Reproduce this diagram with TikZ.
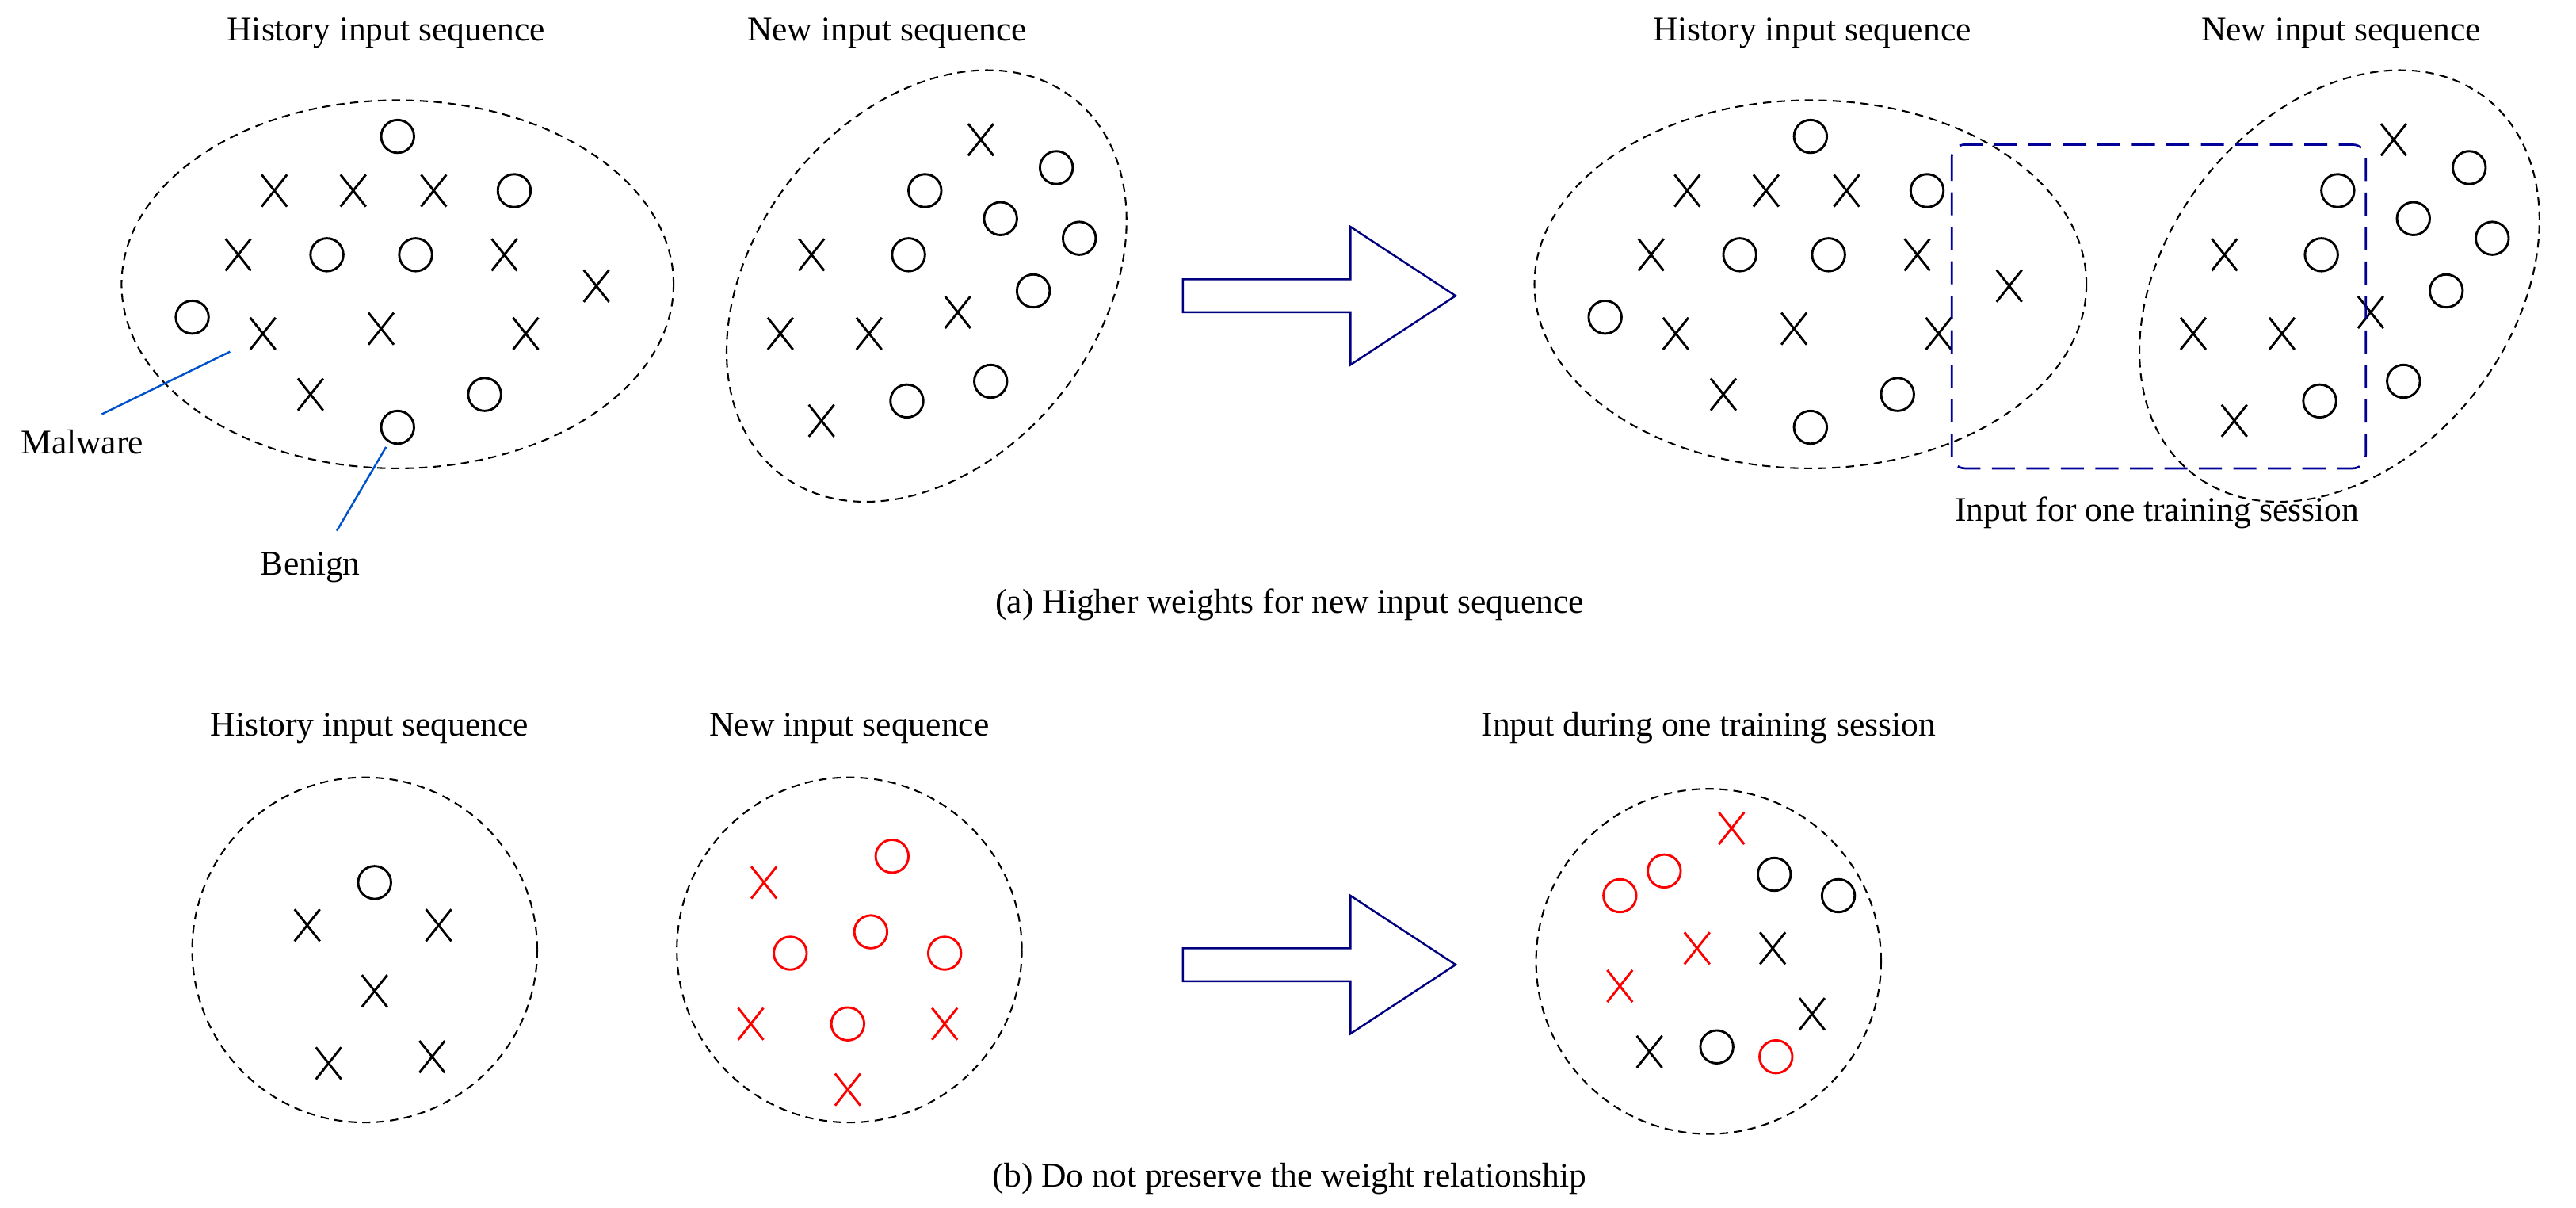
\documentclass[tikz,border=0pt]{standalone}
\usepackage{fontspec}
\setmainfont{Liberation Serif}
\usetikzlibrary{shapes.misc}
\begin{document}
\begin{tikzpicture}[x=1pt,y=-1pt,
  txt/.style={font=\fontsize{21}{25}\selectfont,inner sep=0},
  X/.style={draw,cross out,minimum width=14pt,minimum height=18pt,inner sep=0,line width=1.4pt},
  O/.style={draw,circle,minimum size=20pt,inner sep=0,line width=1.4pt},
  rX/.style={X,red},rO/.style={O,red},
  bnd/.style={dash pattern=on 5pt off 3.5pt,line width=1pt},
  big/.style={draw=blue!50!black,line width=1.2pt,fill=white},
  lbl/.style={draw=blue!60!cyan!80!black,line width=1.2pt}]
\useasboundingbox (0,0) rectangle (1568,735);
\foreach \dx/\g in {0/a,860/b}{
 \begin{scope}[xshift=\dx]
 \draw[bnd] (242,173) ellipse [x radius=168,y radius=112];
 \draw[bnd,rotate around={-38:(564,174)}] (564,174) ellipse [x radius=105,y radius=145];
 \foreach \p [count=\i] in {(242,83),(313,116),(199,155),(253,155),(117,193),(295,240),(242,260),(643,102),(563,116),(609,133),(657,145),(553,155),(629,177),(552,244),(603,232)}
   \node[O] (\g o\i) at \p {};
 \foreach \p [count=\i] in {(167,116),(215,116),(264,116),(145,155),(307,155),(363,174),(160,203),(232,200),(320,203),(189,240),(597,85),(494,155),(475,203),(529,203),(583,190),(500,256)}
   \node[X] (\g x\i) at \p {};
 \end{scope}}
\node[txt] (t1) at (235,20) {History input sequence};
\node[txt] (t2) at (540,20) {New input sequence};
\node[txt] (t3) at (1103,20) {History input sequence};
\node[txt] (t4) at (1425,20) {New input sequence};
\node[txt] (mal) at (50,269) {Malware};
\node[txt] (ben) at (189,345) {Benign};
\coordinate (m1) at (62,252); \coordinate (m2) at (140,214);
\coordinate (b1) at (205,323); \coordinate (b2) at (235,272);
\draw[lbl] (m1) -- (m2);
\draw[lbl] (b1) -- (b2);
\draw[blue!60!black,line width=1.3pt,dash pattern=on 14pt off 7pt,rounded corners=8pt] (1188,88) rectangle (1440,285);
\node[txt] (t5) at (1313,312) {Input for one training session};
\node[txt] (ca) at (785,368) {(a) Higher weights for new input sequence};
\foreach \y/\n in {180/A1,587/A2}{
 \draw[big] (720,\y-10) -- (822,\y-10) -- (822,\y-42) -- (886,\y) -- (822,\y+42) -- (822,\y+10) -- (720,\y+10) -- cycle;
 \node (\n) at (800,\y) {};}
\node[txt] (t6) at (225,443) {History input sequence};
\node[txt] (t7) at (517,443) {New input sequence};
\node[txt] (t8) at (1040,443) {Input during one training session};
\draw[bnd] (222,578) circle (105);
\draw[bnd] (517,578) circle (105);
\draw[bnd] (1040,585) circle (105);
\node[O] (h1) at (228,537) {};
\foreach \p [count=\i] in {(187,563),(267,563),(228,603),(200,647),(263,643)} \node[X] (hx\i) at \p {};
\foreach \p [count=\i] in {(465,537),(457,623),(575,623),(516,663)} \node[rX] (nx\i) at \p {};
\foreach \p [count=\i] in {(543,521),(481,580),(530,567),(575,580),(516,623)} \node[rO] (no\i) at \p {};
\foreach \p [count=\i] in {(1054,504),(1033,577),(986,600)} \node[rX] (ix\i) at \p {};
\foreach \p [count=\i] in {(986,545),(1013,530),(1081,643)} \node[rO] (io\i) at \p {};
\foreach \p [count=\i] in {(1079,577),(1103,617),(1004,640)} \node[X] (jx\i) at \p {};
\foreach \p [count=\i] in {(1080,532),(1119,545),(1045,637)} \node[O] (jo\i) at \p {};
\node[txt] (cb) at (785,717) {(b) Do not preserve the weight relationship};
\end{tikzpicture}
\end{document}
